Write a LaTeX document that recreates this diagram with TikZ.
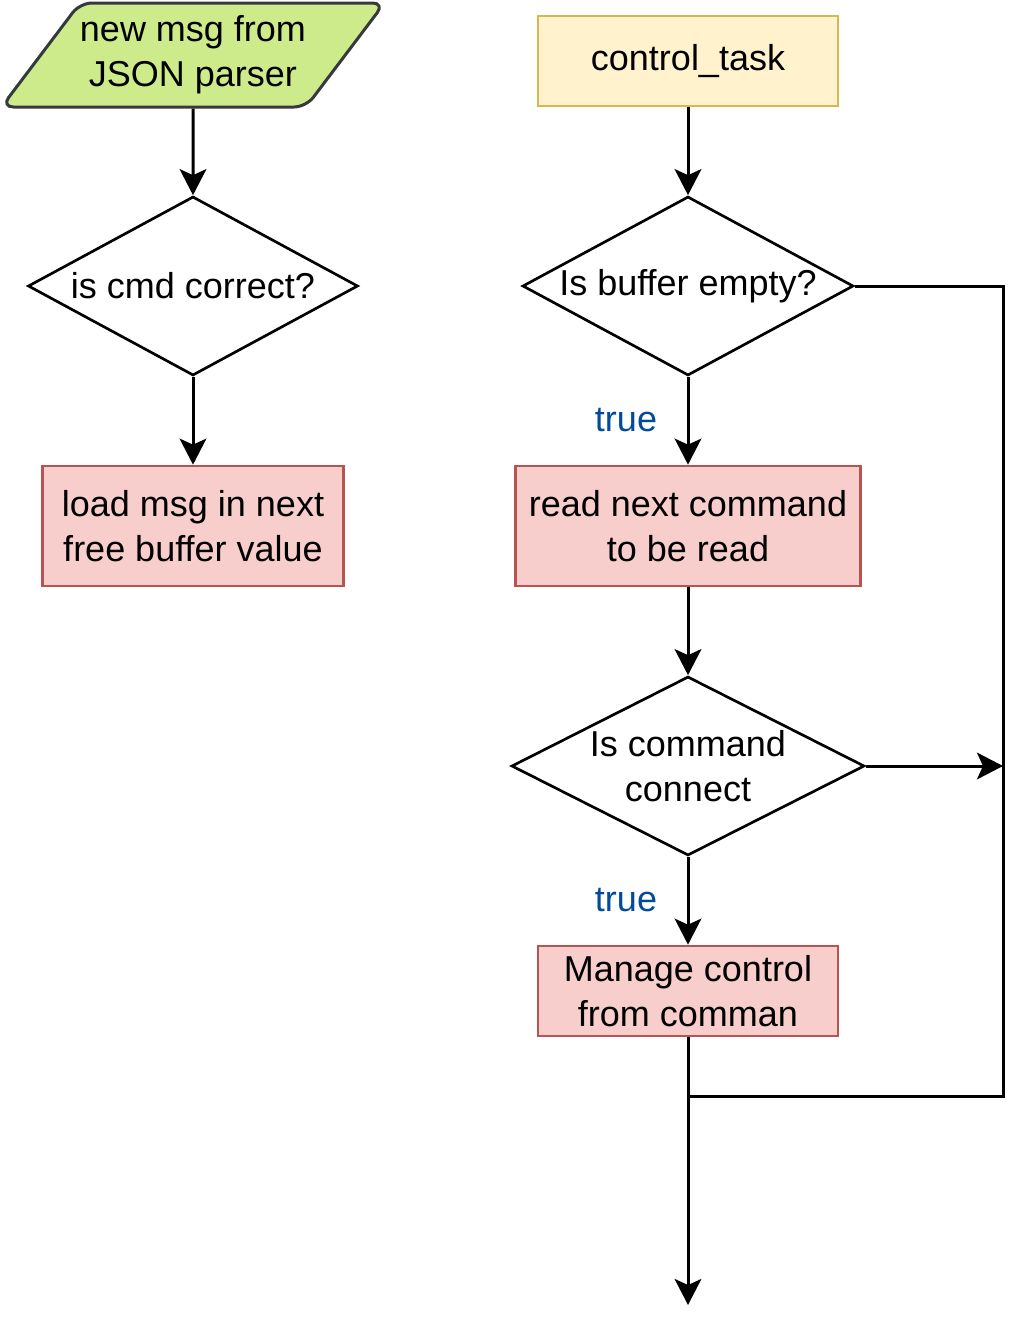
\documentclass[tikz,border=0pt]{standalone}
\usepackage{fontspec}
\setmainfont{Liberation Sans}
\usetikzlibrary{shapes.geometric,arrows.meta}
\definecolor{inFill}{HTML}{CDEB8B}
\definecolor{inLine}{HTML}{36393D}
\definecolor{taskFill}{HTML}{FFF2CC}
\definecolor{taskLine}{HTML}{D6B656}
\definecolor{stepFill}{HTML}{F8CECC}
\definecolor{stepLine}{HTML}{B85450}
\definecolor{trueBlue}{HTML}{004C99}
\begin{document}
\begin{tikzpicture}[x=0.75pt,y=-0.75pt,
  every node/.style={font=\fontsize{27}{33.75}\selectfont,align=center},
  inbox/.style={trapezium,trapezium left angle=45,trapezium right angle=135,
    trapezium stretches body,minimum width=352*0.75pt,minimum height=104*0.75pt,
    inner sep=0pt,fill=inFill,draw=inLine,line width=2.25pt,rounded corners=9pt},
  task/.style={rectangle,fill=taskFill,draw=taskLine,line width=2pt,
    minimum width=300*0.75pt,minimum height=90*0.75pt},
  stepbox/.style={rectangle,fill=stepFill,draw=stepLine,line width=2pt,
    minimum height=120*0.75pt},
  decision/.style={diamond,draw,line width=2pt,inner sep=0pt,
    minimum height=179*0.75pt},
  yes/.style={text=trueBlue},
  flow/.style={line width=2.25pt,-{Stealth[length=19.5pt,width=20pt,inset=4.5pt]}},
  link/.style={line width=2.25pt}]
\useasboundingbox (0,0) rectangle (1029,1335);
% left column
\node[inbox] (msg) at (193,55) {new msg from\\ JSON parser};
\node[decision,minimum width=330*0.75pt,label={center:is cmd correct?}] (cmd) at (193,286) {};
\node[stepbox,minimum width=301*0.75pt] (load) at (193,526) {load msg in next\\free buffer value};
\draw[flow] (msg.south) -- (cmd.north);
\draw[flow] (cmd.south) -- (load.north);
% right column
\node[task] (ctl) at (688,61) {control\_task};
\node[decision,minimum width=331*0.75pt,label={center:Is buffer empty?}] (empty) at (688,286) {};
\node[stepbox,minimum width=345*0.75pt] (read) at (688,526) {read next command\\ to be read};
\node[decision,minimum width=353*0.75pt,label={center:Is command\\connect}] (conn) at (688,766) {};
\node[task,fill=stepFill,draw=stepLine] (manage) at (688,991) {Manage control\\ from comman};
\foreach \y in {420,900}
  \node[yes] (true\y) at (626,\y) {true};
\coordinate (rtop) at (1003,286);
\coordinate (rbot) at (1003,1096);
\coordinate (join) at (688,1096);
\coordinate (out) at (688,1305);
\draw[flow] (ctl.south) -- (empty.north);
\draw[flow] (empty.south) -- (read.north);
\draw[flow] (read.south) -- (conn.north);
\draw[flow] (conn.south) -- (manage.north);
\draw[link] (empty.east) -- (rtop) -- (rbot) -- (join);
\draw[flow] (conn.east) -- (conn.east -| rtop);
\draw[flow] (manage.south) -- (out);
\end{tikzpicture}
\end{document}
